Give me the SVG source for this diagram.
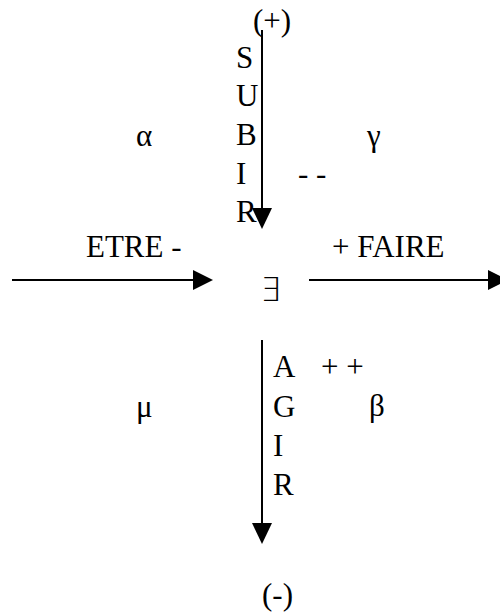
<svg xmlns="http://www.w3.org/2000/svg" width="500" height="612" viewBox="0 0 500 612">
<style>
.t{font-family:"Liberation Serif","Times New Roman",serif;font-size:31px;fill:#000}
.sym{font-family:"DejaVu Sans","Noto Sans",sans-serif;font-size:33px;font-weight:200;fill:#000}
.ln{stroke:#000;stroke-width:2;fill:none}
.ah{fill:#000}
</style>
<g id="connectors">
<line class="ln" x1="262" y1="30" x2="262" y2="210"/>
<path class="ah" d="M252,208 L272,208 L262,229 Z"/>
<line class="ln" x1="12" y1="280" x2="195" y2="280"/>
<path class="ah" d="M193,270 L213,280 L193,290 Z"/>
<line class="ln" x1="309" y1="280" x2="490" y2="280"/>
<path class="ah" d="M488,270 L508,280 L488,290 Z"/>
<line class="ln" x1="262" y1="340" x2="262" y2="525"/>
<path class="ah" d="M252,523 L272,523 L262,544 Z"/>
</g>
<g class="t">
<g id="top-label"><text x="253" y="31">(+)</text></g>
<g id="subir">
<text x="236" y="68">S</text>
<text x="236" y="106">U</text>
<text x="236" y="145">B</text>
<text x="236" y="184">I</text>
<text x="236" y="222">R</text>
</g>
<g id="alpha"><text x="136" y="146">α</text></g>
<g id="gamma"><text x="367" y="146">γ</text></g>
<g id="minus-minus"><text x="298" y="184">- -</text></g>
<g id="etre"><text x="86" y="257">ETRE -</text></g>
<g id="faire"><text x="332" y="257">+ FAIRE</text></g>
<g id="agir">
<text x="273" y="377">A</text>
<text x="273" y="417">G</text>
<text x="273" y="456">I</text>
<text x="273" y="495">R</text>
</g>
<g id="plus-plus"><text x="321" y="377">+ +</text></g>
<g id="mu"><text x="136" y="417">μ</text></g>
<g id="beta"><text x="369" y="416">β</text></g>
<g id="bottom-label"><text x="262" y="605">(-)</text></g>
</g>
<g id="exists" class="sym"><text x="260" y="301">∃</text></g>
</svg>
